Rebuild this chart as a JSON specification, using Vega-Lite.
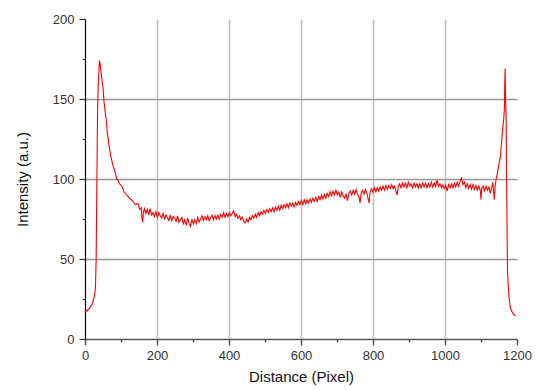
{
  "$schema": "https://vega.github.io/schema/vega-lite/v6.json",
  "autosize": "none",
  "width": 432,
  "height": 320,
  "padding": {"left": 85, "top": 19, "right": 19, "bottom": 51},
  "background": "white",
  "config": {
    "view": {"stroke": null},
    "font": "Liberation Sans",
    "axis": {"labelFont": "Liberation Sans", "titleFont": "Liberation Sans", "labelFontSize": 13, "titleFontSize": 15, "titleFontWeight": "normal", "labelColor": "#333333", "titleColor": "#111111"}
  },
  "data": {"values": [
    {"x":0,"y":17},{"x":3,"y":18},{"x":6,"y":17.5},{"x":9,"y":18.5},{"x":12,"y":19},{"x":15,"y":20},{"x":18,"y":21},{"x":21,"y":22.5},{"x":24,"y":25},{"x":27,"y":28},{"x":29,"y":32},{"x":31,"y":50},{"x":33,"y":100},{"x":35,"y":144},{"x":37,"y":160},{"x":40,"y":174},{"x":42,"y":172},{"x":44,"y":168},{"x":47,"y":162},{"x":50,"y":157},{"x":53,"y":148},{"x":56,"y":142},{"x":59,"y":137},{"x":62,"y":129},{"x":65,"y":124},{"x":68,"y":119},{"x":71,"y":115},{"x":74,"y":112},{"x":77,"y":109},{"x":80,"y":107},{"x":84,"y":104},{"x":88,"y":100},{"x":92,"y":99},{"x":96,"y":97},{"x":100,"y":96},{"x":104,"y":95},{"x":108,"y":92},{"x":112,"y":91},{"x":116,"y":90},{"x":120,"y":89},{"x":124,"y":88},{"x":128,"y":87},{"x":132,"y":86.5},{"x":136,"y":85},{"x":140,"y":84},{"x":144,"y":84.5},
    {"x":148,"y":84.5},{"x":152,"y":81},{"x":156,"y":82},{"x":158,"y":76},{"x":160,"y":73},{"x":162,"y":79},{"x":165,"y":81.5},{"x":169,"y":78.5},{"x":173,"y":81},{"x":177,"y":77.5},{"x":181,"y":81.5},{"x":185,"y":77.5},{"x":189,"y":79},{"x":193,"y":76.5},{"x":197,"y":79.5},{"x":201,"y":76},{"x":205,"y":79},{"x":209,"y":77},{"x":213,"y":75.5},{"x":217,"y":78.5},{"x":221,"y":75},{"x":225,"y":77.5},{"x":229,"y":76},{"x":233,"y":74},{"x":237,"y":77.5},{"x":241,"y":74},{"x":245,"y":76.5},{"x":249,"y":76},{"x":253,"y":73.5},{"x":257,"y":77},{"x":261,"y":73},{"x":265,"y":74.5},{"x":269,"y":76},{"x":273,"y":72},{"x":277,"y":74.5},{"x":281,"y":71},{"x":285,"y":75.5},{"x":289,"y":72.5},{"x":293,"y":70.5},{"x":297,"y":74.5},{"x":301,"y":72},{"x":305,"y":74.5},{"x":309,"y":72},{"x":313,"y":76},{"x":317,"y":73},{"x":321,"y":75},{"x":325,"y":77},{"x":329,"y":74},{"x":333,"y":76.5},{"x":337,"y":74.5},{"x":341,"y":77},{"x":345,"y":74},{"x":349,"y":76},{"x":353,"y":77.5},{"x":357,"y":74.5},{"x":361,"y":77},{"x":365,"y":75},{"x":369,"y":77.5},{"x":373,"y":75},{"x":377,"y":78},{"x":381,"y":76},{"x":385,"y":79},{"x":389,"y":76},{"x":393,"y":78.5},{"x":397,"y":76.5},{"x":401,"y":79},{"x":405,"y":77},{"x":409,"y":78.5},{"x":413,"y":80},{"x":417,"y":76.5},{"x":421,"y":78},{"x":425,"y":75.5},{"x":429,"y":77},{"x":433,"y":74.5},{"x":437,"y":76},{"x":441,"y":73.5},{"x":445,"y":72.5},{"x":449,"y":75},{"x":453,"y":73},{"x":457,"y":76},{"x":461,"y":74.5},{"x":465,"y":77},{"x":469,"y":75.5},{"x":473,"y":78},{"x":477,"y":76},{"x":481,"y":79},{"x":485,"y":77},{"x":489,"y":79.5},{"x":493,"y":78},{"x":497,"y":80.5},{"x":501,"y":78.5},{"x":505,"y":81},{"x":509,"y":79},{"x":513,"y":81.5},{"x":517,"y":79.5},{"x":521,"y":82},{"x":525,"y":79.5},{"x":529,"y":82.5},{"x":533,"y":80.5},{"x":537,"y":83},{"x":541,"y":80.5},{"x":545,"y":83.5},{"x":549,"y":81.5},{"x":553,"y":84},{"x":557,"y":82},{"x":561,"y":84.5},{"x":565,"y":82},{"x":569,"y":85},{"x":573,"y":83},{"x":577,"y":85},{"x":581,"y":82.5},{"x":585,"y":85.5},{"x":589,"y":83.5},{"x":593,"y":86},{"x":597,"y":84},{"x":601,"y":86.5},{"x":605,"y":84},{"x":609,"y":87},{"x":613,"y":84.5},{"x":617,"y":87},{"x":621,"y":85},{"x":625,"y":87.5},{"x":629,"y":85.5},{"x":633,"y":88},{"x":637,"y":86},{"x":641,"y":88.5},{"x":645,"y":86},{"x":649,"y":89},{"x":653,"y":87},{"x":657,"y":90},{"x":661,"y":87.5},{"x":665,"y":90.5},{"x":669,"y":88},{"x":673,"y":91},{"x":677,"y":89},{"x":681,"y":92},{"x":685,"y":89.5},{"x":689,"y":92.5},{"x":693,"y":90},{"x":697,"y":93},{"x":701,"y":90},{"x":705,"y":92},{"x":709,"y":88.5},{"x":713,"y":92},{"x":717,"y":89.5},{"x":721,"y":88},{"x":725,"y":90.5},{"x":729,"y":86.5},{"x":733,"y":91},{"x":737,"y":92.5},{"x":741,"y":90},{"x":745,"y":93},{"x":749,"y":90.5},{"x":753,"y":93.5},{"x":757,"y":90.5},{"x":761,"y":89},{"x":764,"y":85},{"x":767,"y":91},{"x":771,"y":93},{"x":775,"y":90.5},{"x":779,"y":93.5},{"x":783,"y":91},{"x":786,"y":88},{"x":789,"y":85},{"x":792,"y":92},{"x":796,"y":94},{"x":800,"y":91.5},{"x":804,"y":94.5},{"x":808,"y":92},{"x":812,"y":94.5},{"x":816,"y":92.5},{"x":820,"y":95},{"x":824,"y":93},{"x":828,"y":95.5},{"x":832,"y":93},{"x":836,"y":96},{"x":840,"y":93.5},{"x":844,"y":96},{"x":848,"y":94},{"x":852,"y":96.5},{"x":856,"y":94},{"x":860,"y":95.5},{"x":864,"y":92},{"x":867,"y":90},{"x":870,"y":95},{"x":874,"y":97},{"x":878,"y":94.5},{"x":882,"y":97.5},{"x":886,"y":95},{"x":890,"y":97.5},{"x":894,"y":94.5},{"x":898,"y":98},{"x":902,"y":95.5},{"x":906,"y":97},{"x":910,"y":94.5},{"x":914,"y":97.5},{"x":918,"y":95},{"x":922,"y":97},{"x":926,"y":94.5},{"x":930,"y":97},{"x":934,"y":94.5},{"x":938,"y":97.5},{"x":942,"y":95},{"x":946,"y":97.5},{"x":950,"y":94.5},{"x":954,"y":97},{"x":958,"y":95},{"x":962,"y":98},{"x":966,"y":95},{"x":970,"y":97.5},{"x":974,"y":95.5},{"x":978,"y":99.5},{"x":982,"y":95.5},{"x":986,"y":97},{"x":990,"y":94.5},{"x":994,"y":96.5},{"x":998,"y":94},{"x":1002,"y":96},{"x":1006,"y":92.5},{"x":1010,"y":96.5},{"x":1014,"y":94.5},{"x":1018,"y":97},{"x":1022,"y":94.5},{"x":1026,"y":97.5},{"x":1030,"y":95},{"x":1034,"y":98},{"x":1038,"y":95.5},{"x":1042,"y":98.5},{"x":1046,"y":100.5},{"x":1050,"y":96.5},{"x":1054,"y":98},{"x":1058,"y":94.5},{"x":1062,"y":97},{"x":1066,"y":94},{"x":1070,"y":96.5},{"x":1074,"y":93.5},{"x":1078,"y":96.5},{"x":1082,"y":93.5},{"x":1086,"y":96},{"x":1090,"y":93},{"x":1094,"y":95.5},{"x":1098,"y":93},{"x":1100,"y":87},{"x":1102,"y":94},{"x":1106,"y":95.5},{"x":1110,"y":92.5},{"x":1114,"y":95.5},{"x":1118,"y":93},{"x":1122,"y":95},{"x":1126,"y":91},{"x":1130,"y":95},
    {"x":1133,"y":98},{"x":1135,"y":92},{"x":1137,"y":87},{"x":1139,"y":95},{"x":1142,"y":100},{"x":1145,"y":103},{"x":1149,"y":108},{"x":1152,"y":112},{"x":1154,"y":114},{"x":1156,"y":120},{"x":1158,"y":125},{"x":1160,"y":131},{"x":1163,"y":137},{"x":1165,"y":144},{"x":1166,"y":160},{"x":1167,"y":169},{"x":1168,"y":153},{"x":1169,"y":145},{"x":1170,"y":137},{"x":1171,"y":100},{"x":1172,"y":78},{"x":1173,"y":55},{"x":1174,"y":41},{"x":1176,"y":32},{"x":1178,"y":26},{"x":1181,"y":20},{"x":1185,"y":17.5},{"x":1189,"y":16},{"x":1193,"y":15},{"x":1196,"y":14.4}
  ]},
  "mark": {"type": "line", "color": "#ff0000", "strokeWidth": 1.1, "interpolate": "linear"},
  "encoding": {
    "x": {
      "field": "x", "type": "quantitative",
      "scale": {"domain": [0, 1200], "nice": false, "zero": false},
      "axis": {
        "title": "Distance (Pixel)",
        "values": [0,100,200,300,400,500,600,700,800,900,1000,1100,1200],
        "labelExpr": "datum.value % 200 == 0 ? datum.label : ''",
        "format": "d",
        "domainColor": "#555555", "domainWidth": 1.5,
        "tickColor": "#555555", "tickWidth": 1.5,
        "tickSize": {"condition": {"test": "datum.value % 200 != 0", "value": 3}, "value": 6},
        "labelPadding": 4,
        "labelFlush": false,
        "labelOverlap": false,
        "grid": true,
        "gridColor": "#bdbdbd", "gridWidth": 1.5,
        "gridOpacity": {"condition": {"test": "datum.value % 200 != 0 || datum.value == 0 || datum.value == 1200", "value": 0}, "value": 1},
        "titlePadding": 7
      }
    },
    "y": {
      "field": "y", "type": "quantitative",
      "scale": {"domain": [0, 200], "nice": false, "zero": true},
      "axis": {
        "title": "Intensity (a.u.)",
        "values": [0,25,50,75,100,125,150,175,200],
        "labelExpr": "datum.value % 50 == 0 ? datum.label : ''",
        "domainColor": "#000000", "domainWidth": 1.2,
        "tickColor": "#333333", "tickWidth": 1.2,
        "tickSize": {"condition": {"test": "datum.value % 50 != 0", "value": 3}, "value": 6},
        "labelPadding": 5,
        "labelFlush": false,
        "labelOverlap": false,
        "grid": true,
        "gridColor": "#999999", "gridWidth": 1.3,
        "gridOpacity": {"condition": {"test": "datum.value % 50 != 0 || datum.value == 0 || datum.value == 200", "value": 0}, "value": 1},
        "titlePadding": 22
      }
    }
  }
}
